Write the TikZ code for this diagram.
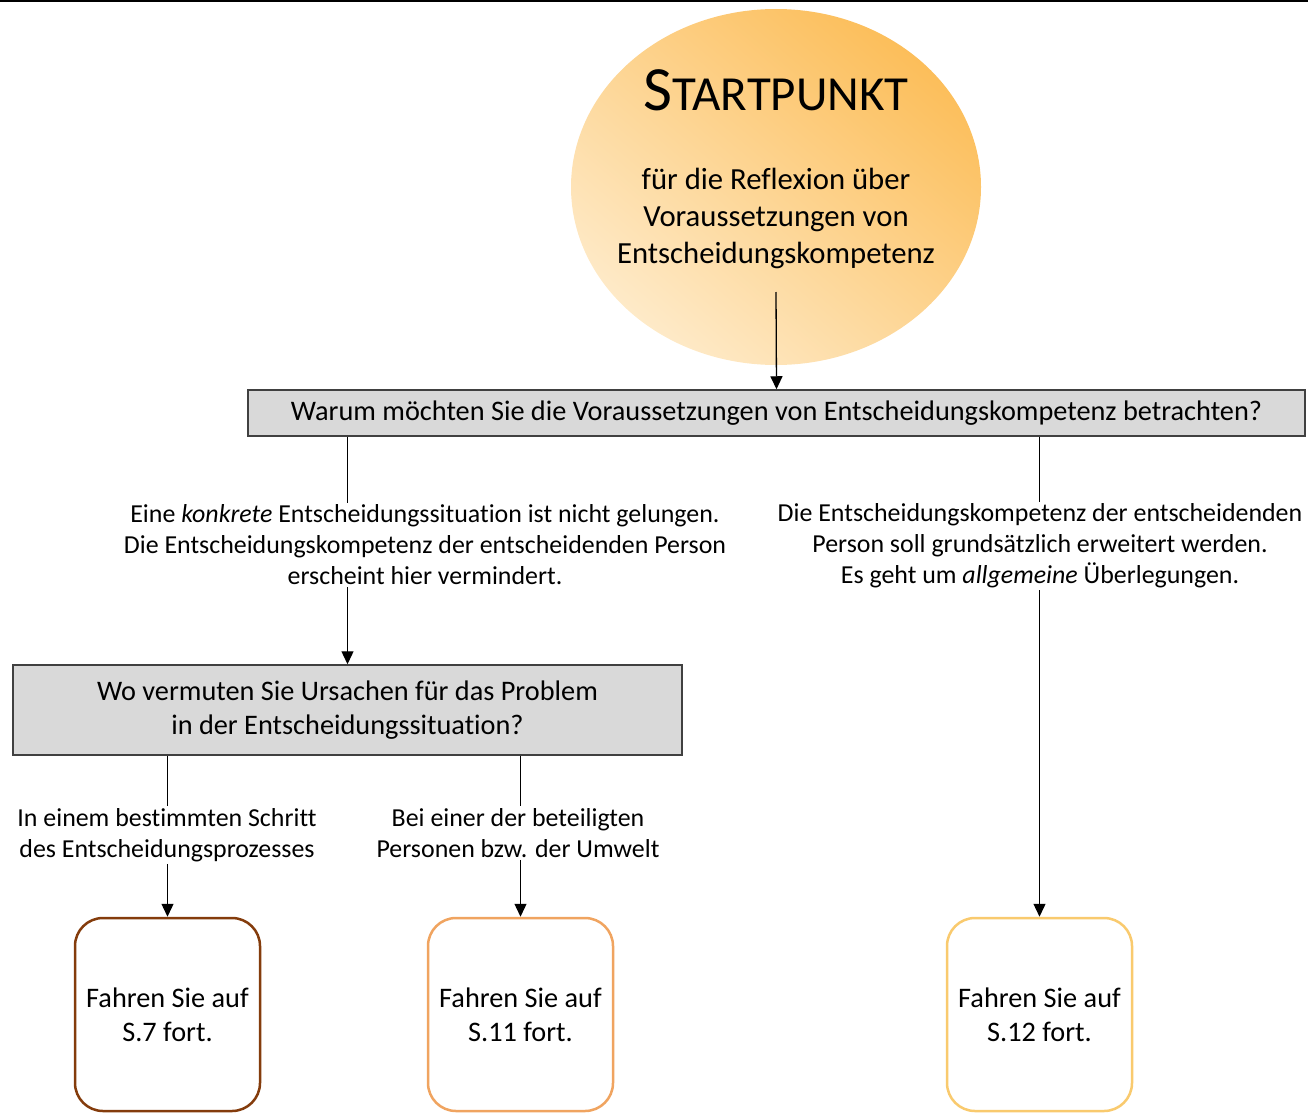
\documentclass[tikz,border=0pt]{standalone}
\usepackage{fontspec}
\setmainfont{Carlito}[Ligatures=NoCommon]
\usetikzlibrary{arrows.meta,shapes.geometric}
\definecolor{boxgray}{RGB}{217,217,217}
\definecolor{boxline}{RGB}{64,64,64}
\definecolor{cbrown}{RGB}{132,60,12}
\definecolor{corange}{RGB}{240,164,96}
\definecolor{cyellow}{RGB}{249,202,110}
\definecolor{sundark}{RGB}{252,190,90}
\definecolor{sunlight}{RGB}{254,234,200}
\begin{document}
\begin{tikzpicture}[x=1pt,y=-1pt,
  conn/.style={line width=1.3pt,black},
  arr/.style={conn,-{Triangle[length=13pt,width=12pt]}},
  qbox/.style={draw=boxline,fill=boxgray,line width=1.5pt,inner sep=0pt,align=center,font=\fontsize{28.3}{34}\selectfont},
  endbox/.style={draw,line width=2.5pt,rounded corners=28pt,fill=white,minimum width=185pt,minimum height=193pt,inner sep=0pt,align=center,font=\fontsize{28.3}{34}\selectfont},
  lab/.style={align=center,inner sep=2pt,font=\fontsize{25.9}{31}\selectfont},
  suntext/.style={align=center,inner sep=0pt,font=\fontsize{30.7}{37}\selectfont}]
\useasboundingbox (0,0) rectangle (1308,1113);
\clip (0,0) rectangle (1308,1113);
\draw[line width=3pt] (0,0.5) -- (1308,0.5);
% sun
\node[ellipse,minimum width=410pt,minimum height=356pt,inner sep=0pt,top color=sundark,bottom color=sunlight,shading angle=-40,draw=none] (sun) at (776,187) {};
\node[inner sep=0pt] (title) at (776,90) {\fontsize{63}{63}\selectfont S\fontsize{49}{49}\selectfont TARTPUNKT};
\node[suntext] (subtitle) at (776,218) {für die Reflexion über\\Voraussetzungen von\\Entscheidungskompetenz};
\coordinate (s0) at (776,292);
% question 1
\node[qbox,minimum width=1057pt,minimum height=46pt] (q1) at (776.5,413) {Warum möchten Sie die Voraussetzungen von Entscheidungskompetenz betrachten?};
% question 2
\node[qbox,minimum width=669pt,minimum height=90pt] (q2) at (347.5,710) {Wo vermuten Sie Ursachen für das Problem\\in der Entscheidungssituation?};
% end boxes
\node[endbox,draw=cbrown] (f1) at (167.5,1014.5) {Fahren Sie auf\\S.7 fort.};
\node[endbox,draw=corange] (f2) at (520.5,1014.5) {Fahren Sie auf\\S.11 fort.};
\node[endbox,draw=cyellow] (f3) at (1039.5,1014.5) {Fahren Sie auf\\S.12 fort.};
% labels
\node[lab] (l1) at (425,545) {Eine \textit{konkrete} Entscheidungssituation ist nicht gelungen.\\Die Entscheidungskompetenz der entscheidenden Person\\erscheint hier vermindert.};
\node[lab] (l2) at (1040,546) {Die Entscheidungskompetenz der entscheidenden\\Person soll grundsätzlich erweitert werden.\\Es geht um \textit{allgemeine} Überlegungen.};
\node[lab] (l3) at (167,835) {In einem bestimmten Schritt\\des Entscheidungsprozesses};
\node[lab] (l4) at (518,833) {Bei einer der beteiligten\\Personen bzw. der Umwelt};
% connectors
\draw[arr] (s0) -- (q1.north);
\draw[conn] (q1.south -| q2.north) -- (l1.north -| q2.north);
\draw[arr] (l1.south -| q2.north) -- (q2.north);
\draw[conn] (q1.south -| f3.north) -- (l2.north -| f3.north);
\draw[arr] (l2.south -| f3.north) -- (f3.north);
\draw[conn] (q2.south -| f1.north) -- (l3.north -| f1.north);
\draw[arr] (l3.south -| f1.north) -- (f1.north);
\draw[conn] (q2.south -| f2.north) -- (l4.north -| f2.north);
\draw[arr] (l4.south -| f2.north) -- (f2.north);
\end{tikzpicture}
\end{document}
